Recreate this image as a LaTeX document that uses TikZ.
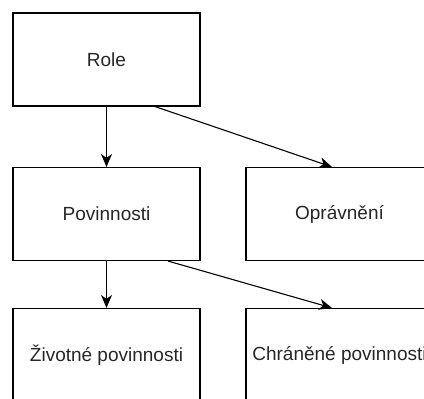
\documentclass[tikz,border=0pt]{standalone}
\usepackage{fontspec}
\setmainfont{Liberation Sans}
\usetikzlibrary{positioning, arrows.meta}
\tikzset{
  box/.style={rectangle, draw, line width=1.1pt, minimum width=187pt, minimum height=93pt,
    inner sep=0pt, font=\fontsize{19}{22}\selectfont, text=black!85},
  link/.style={line width=1.1pt, -{Stealth[length=13pt, width=11pt, inset=4pt]}},
}

\begin{document}
\begin{tikzpicture}[x=1pt, y=1pt]
\useasboundingbox (0,0) rectangle (424,-399);
\clip (0,0) rectangle (424,-399);

% ── Levy sloupec ────────────────────────────────────────────
\node[box] (role) at (106.5, -59.5) {Role};
\node[box] (pov) at (106.5, -214) {Povinnosti};
\node[box] (ziv) at (106.5, -355) {Životné povinnosti};

% ── Pravy sloupec ───────────────────────────────────────────
\node[box] (opr) at (339.5, -214) {Oprávnění};
\node[box] (chr) at (339.5, -355) {Chráněné povinnosti};

% ── Vazby ───────────────────────────────────────────────────
\draw[link] (role.south) -- (pov.north);
\draw[link] ([xshift=48.5pt]role.south) -- ([xshift=-7.5pt]opr.north);
\draw[link] (pov.south) -- (ziv.north);
\draw[link] ([xshift=61.5pt]pov.south) -- ([xshift=-7.5pt]chr.north);

\end{tikzpicture}
\end{document}
